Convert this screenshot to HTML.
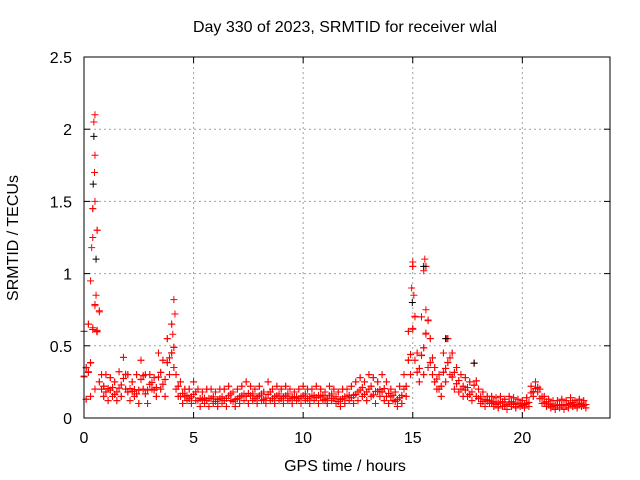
<!DOCTYPE html>
<html><head><meta charset="utf-8"><style>
body{margin:0;background:#fff;}
svg{display:block;font-family:"Liberation Sans",sans-serif;}
</style></head><body>
<svg id="chart" width="640" height="480">
<text x="345" y="32" font-size="16" text-anchor="middle">Day 330 of 2023, SRMTID for receiver wlal</text>
<text x="345" y="471" font-size="16" text-anchor="middle">GPS time / hours</text>
<text x="18" y="238" font-size="16" text-anchor="middle" transform="rotate(-90 18 238)">SRMTID / TECUs</text>
<g id="grid"></g><g id="marks"></g>
<rect x="84" y="57" width="526" height="361" fill="none" stroke="#000"/>
<g id="ticks"></g>
</svg>
<script>
const hours=[0,0.2,0.4,0.6,0.8,1.0,1.2,1.4,1.6,1.8,2.0,2.2,2.4,2.6,2.8,3.0,3.2,3.4,3.6,3.8,4.0,4.2,4.4,4.6,4.8,5.0,5.2,5.4,5.6,5.8,6.0,6.2,6.4,6.6,6.8,7.0,7.2,7.4,7.6,7.8,8.0,8.2,8.4,8.6,8.8,9.0,9.2,9.4,9.6,9.8,10.0,10.2,10.4,10.6,10.8,11.0,11.2,11.4,11.6,11.8,12.0,12.2,12.4,12.6,12.8,13.0,13.2,13.4,13.6,13.8,14.0,14.2,14.4,14.6,14.8,15.0,15.2,15.4,15.6,15.8,16.0,16.2,16.4,16.6,16.8,17.0,17.2,17.4,17.6,17.8,18.0,18.2,18.4,18.6,18.8,19.0,19.2,19.4,19.6,19.8,20.0,20.2,20.4,20.6,20.8,21.0,21.2,21.4,21.6,21.8,22.0,22.2,22.4,22.6,22.8];
const lowVals=[.13,.15,.2,.25,.15,.12,.15,.12,.15,.2,.12,.15,.1,.2,.1,.2,.15,.2,.15,.3,.35,.15,.1,.12,.1,.12,.08,.1,.08,.1,.08,.1,.08,.12,.08,.1,.12,.1,.12,.1,.12,.1,.12,.1,.12,.1,.12,.1,.12,.1,.12,.1,.12,.1,.12,.1,.12,.1,.08,.1,.12,.1,.12,.15,.12,.15,.1,.15,.12,.1,.12,.08,.1,.15,.3,.4,.25,.3,.35,.3,.2,.15,.25,.3,.2,.18,.15,.15,.12,.15,.1,.08,.1,.08,.07,.08,.06,.08,.07,.08,.07,.08,.15,.18,.1,.08,.07,.06,.07,.06,.07,.08,.07,.08,.07];
const highVals=[.6,.65,1.45,1.3,.3,.3,.28,.25,.32,.42,.3,.25,.3,.4,.3,.3,.28,.45,.4,.55,.65,.3,.25,.2,.2,.25,.2,.18,.2,.2,.18,.2,.2,.22,.18,.2,.22,.25,.22,.2,.22,.18,.25,.2,.22,.2,.22,.2,.18,.2,.22,.2,.2,.22,.2,.18,.22,.2,.18,.2,.2,.22,.25,.28,.25,.3,.28,.25,.3,.25,.2,.18,.22,.3,.6,1.05,.45,.7,1.05,.55,.35,.3,.45,.55,.45,.35,.3,.28,.25,.38,.2,.18,.15,.15,.14,.15,.13,.15,.14,.13,.12,.14,.22,.25,.2,.15,.13,.12,.12,.13,.12,.14,.12,.13,.12];
const spikeT=[0.45,0.5,0.5,0.48,0.5,0.4,0.35,0.3,0.55,0.58,4.1,4.15,4.05,15.0,14.95,15.05,15.55,15.5,15.6,16.55];
const spikeV=[2.05,2.1,1.82,1.7,1.5,1.25,1.18,0.95,0.85,0.6,0.82,0.72,0.58,1.08,0.9,0.85,1.1,1.02,0.75,0.55];
const blackT=[0.45,0.42,0.55,14.98,15.5,16.5,17.8];
const blackV=[1.95,1.62,1.1,0.8,1.05,0.55,0.38];
const xTicks=[0,5,10,15,20];
const yTicks=[0,0.5,1,1.5,2,2.5];
const yLabels=["0","0.5","1","1.5","2","2.5"];
const X=t=>84+t*526/24, Y=v=>418-v*361/2.5;
const NS="http://www.w3.org/2000/svg";
const grid=document.getElementById('grid'),marks=document.getElementById('marks'),ticks=document.getElementById('ticks');
function el(tag,attrs,parent){const e=document.createElementNS(NS,tag);for(const k in attrs)e.setAttribute(k,attrs[k]);parent.appendChild(e);return e;}
xTicks.forEach(t=>{
 if(t>0){const g=el('line',{x1:X(t),x2:X(t),y1:57,y2:418,stroke:'#a0a0a0','stroke-dasharray':'2,3'},grid);
 
 }
 el('line',{x1:X(t),x2:X(t),y1:418,y2:412,stroke:'#000'},ticks);
 el('line',{x1:X(t),x2:X(t),y1:57,y2:63,stroke:'#000'},ticks);
 const l=el('text',{x:X(t),y:443,'font-size':16,'text-anchor':'middle'},ticks);l.textContent=t;
 
 
});
yTicks.forEach((v,i)=>{
 if(v>0&&v<2.5){const g=el('line',{x1:84,x2:610,y1:Y(v),y2:Y(v),stroke:'#a0a0a0','stroke-dasharray':'2,3'},grid);
 
 }
 el('line',{x1:84,x2:90,y1:Y(v),y2:Y(v),stroke:'#000'},ticks);
 el('line',{x1:604,x2:610,y1:Y(v),y2:Y(v),stroke:'#000'},ticks);
 const l=el('text',{x:72,y:Y(v)+6,'font-size':16,'text-anchor':'end'},ticks);l.textContent=yLabels[i];
 
 
});
function plus(t,v,c){const p=el('path',{d:`M${X(t)-3.5},${Y(v)}h7M${X(t)},${Y(v)-3.5}v7`,stroke:c,'stroke-width':1,fill:'none'},marks);
 
 }
const offs=[0,0.1],fr=[0,0.33,0.66,1];
hours.forEach((h,i)=>{
 const lo=lowVals[i],hi=highVals[i];
 offs.forEach((o,j)=>fr.forEach((f,k)=>{
  const fk=(k+j)%2?f:1-f;
  plus(h+o,lo+(hi-lo)*fk*(j==1?0.7:1),'#f00');
 }));
});
spikeT.forEach((t,i)=>plus(t,spikeV[i],'#f00'));
blackT.forEach((t,i)=>plus(t,blackV[i],'#000'));
</script>
</body></html>
